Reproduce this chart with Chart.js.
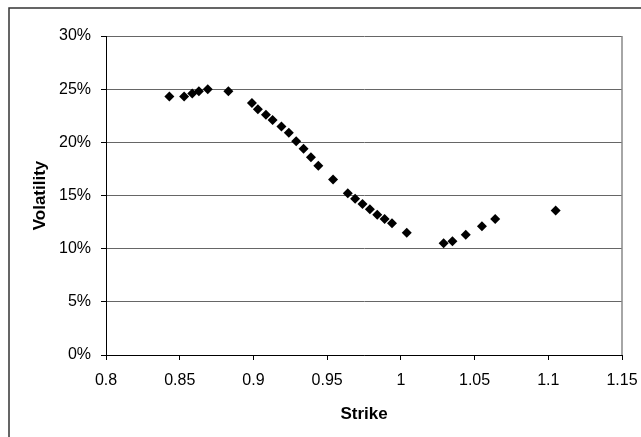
<!DOCTYPE html>
<html>
<head>
<meta charset="utf-8">
<script src="https://cdn.jsdelivr.net/npm/chart.js@4"></script>
<style>
  html, body { margin: 0; padding: 0; background: #fff; }
  #wrap { width: 641px; height: 437px; }
</style>
</head>
<body>
<div id="wrap"><canvas id="myChart"></canvas></div>
<script>
// strike / implied vol smile
const strikes = [0.843, 0.853, 0.8585, 0.863, 0.869, 0.883, 0.899, 0.903, 0.9085, 0.913,
                 0.919, 0.924, 0.929, 0.934, 0.939, 0.944, 0.954, 0.964, 0.969, 0.974,
                 0.979, 0.984, 0.989, 0.994, 1.004, 1.029, 1.035, 1.044, 1.055, 1.064, 1.105];
const vols = [0.243, 0.243, 0.246, 0.248, 0.250, 0.248, 0.237, 0.231, 0.226, 0.221,
              0.215, 0.209, 0.201, 0.194, 0.186, 0.178, 0.165, 0.152, 0.147, 0.142,
              0.137, 0.132, 0.128, 0.124, 0.115, 0.105, 0.107, 0.113, 0.121, 0.128, 0.136];

let points = [];
for (let i = 0; i < strikes.length; i++) {
  points.push({ x: strikes[i], y: vols[i] });
}

// outer frame + right edge of plot
const frame = {
  id: 'frame',
  afterDraw(chart) {
    const c = chart.ctx;
    const a = chart.chartArea;
    c.save();
    c.strokeStyle = '#333';
    c.lineWidth = 1.5;
    c.beginPath();
    c.moveTo(9, 437);
    c.lineTo(9, 8);
    c.lineTo(641, 8);
    c.stroke();
    c.strokeStyle = '#888';
    c.lineWidth = 1.5;
    c.beginPath();
    c.moveTo(a.right, a.top);
    c.lineTo(a.right, a.bottom);
    c.stroke();
    c.restore();
  }
};

const ctx = document.getElementById('myChart');

new Chart(ctx, {
  type: 'scatter',
  data: {
    datasets: [{
      data: points,
      pointStyle: 'rectRot',
      pointRadius: 5,
      backgroundColor: '#000',
      borderColor: '#000',
      borderWidth: 0
    }]
  },
  options: {
    responsive: true,
    maintainAspectRatio: false,
    animation: false,
    layout: { padding: { left: 0, top: 36, right: 19, bottom: 0 } },
    plugins: { legend: { display: false }, tooltip: { enabled: false } },
    scales: {
      x: {
        type: 'linear',
        min: 0.8,
        max: 1.15,
        afterFit: function(s) {
          s.height = 82;
          s.paddingLeft = 0;
          s.paddingRight = 0;
        },
        ticks: {
          stepSize: 0.05,
          color: '#000',
          padding: 11,
          font: { family: 'Liberation Sans', size: 16 },
          callback: function(v) { return +v.toFixed(2); }
        },
        grid: { drawOnChartArea: false, drawTicks: true, tickLength: 5, tickColor: '#000' },
        border: { color: '#000', width: 1 },
        title: {
          display: true,
          text: 'Strike',
          color: '#000',
          font: { family: 'Liberation Sans', size: 17, weight: 'bold' },
          padding: { top: 0, bottom: 12 }
        }
      },
      y: {
        min: 0,
        max: 0.3,
        afterFit: function(s) {
          s.width = 106;
          s.paddingTop = 0;
          s.paddingBottom = 0;
        },
        ticks: {
          stepSize: 0.05,
          color: '#000',
          padding: 10,
          font: { family: 'Liberation Sans', size: 16 },
          callback: function(v) { return Math.round(v * 100) + '%'; }
        },
        grid: { color: '#666', lineWidth: 1, tickLength: 5, tickColor: '#000' },
        border: { color: '#000', width: 1 },
        title: {
          display: true,
          text: 'Volatility',
          color: '#000',
          font: { family: 'Liberation Sans', size: 17, weight: 'bold' },
          padding: { top: 30, bottom: 0 }
        }
      }
    }
  },
  plugins: [frame]
});
</script>
</body>
</html>
